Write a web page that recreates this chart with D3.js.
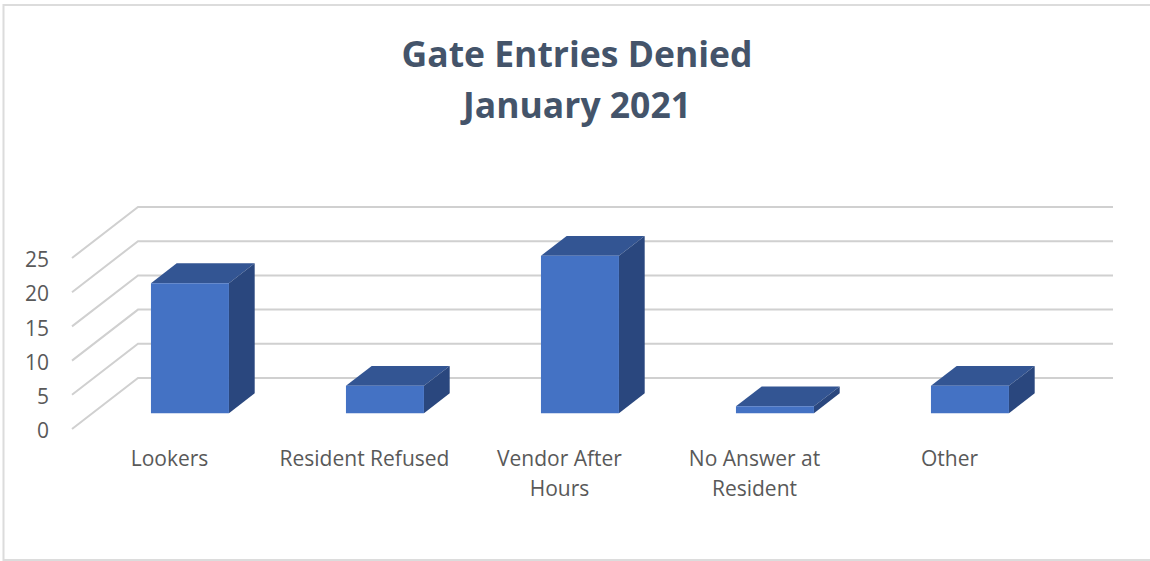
<!DOCTYPE html>
<html>
<head>
<meta charset="utf-8">
<script src="https://cdn.jsdelivr.net/npm/d3@7"></script>
<style>
  html, body { margin: 0; padding: 0; background: #fff; }
  svg { display: block; }
</style>
</head>
<body>
<div id="chart"></div>
<script>
// Values
const titleLines = ["Gate Entries Denied", "January 2021"];
const categories = ["Lookers", "Resident Refused", "Vendor After Hours", "No Answer at Resident", "Other"];
const categoryLines = [["Lookers"], ["Resident Refused"], ["Vendor After", "Hours"], ["No Answer at", "Resident"], ["Other"]];
const values = [19, 4, 23, 1, 4];
const yTicks = [0, 5, 10, 15, 20, 25];

const width = 1150;
const height = 561;

const svg = d3.select("#chart")
    .append("svg")
    .attr("width", width)
    .attr("height", height);

// Chart border
svg.append("path")
    .attr("d", "M3.5,561V5H1150M3,560H1150")
    .attr("fill", "none")
    .attr("stroke", "#dcdcdc")
    .attr("stroke-width", 2);

// Scales, measured on the front plane of the 3D box
const xScale = d3.scaleBand().domain(categories).range([72, 1047]).paddingInner(0.6).paddingOuter(0.3);
const yScale = d3.scaleLinear().domain([0, 25]).range([429, 258]);
// depth 0 = front of floor, 1 = back wall
const depthX = d3.scaleLinear().domain([0, 1]).range([0, 66]);
const depthY = d3.scaleLinear().domain([0, 1]).range([0, -51]);

const project = (x, y, t) => [x + depthX(t), y + depthY(t)];
const line = d3.line();

// Gridlines: slanted part on the side wall, then along the back wall
const grid = svg.append("g");
yTicks.forEach(t => {
    grid.append("path")
        .attr("d", line([
            project(72, yScale(t), 0),
            project(72, yScale(t), 1),
            project(1047, yScale(t), 1)
        ]))
        .attr("fill", "none")
        .attr("stroke", "#d0d0d0")
        .attr("stroke-width", 2);
});

// Bars
const barFront = 0.31;
const barBack = 0.7;

const bars = svg.selectAll(".bar")
    .data(categories.map((c, i) => ({ category: c, value: values[i] })))
    .enter()
    .append("g")
    .attr("class", "bar");

const poly = pts => line(pts) + "Z";

bars.append("path") // top
    .attr("fill", "#335593")
    .attr("d", d => {
        const x0 = xScale(d.category), x1 = x0 + xScale.bandwidth(), y = yScale(d.value);
        return poly([project(x0, y, barFront), project(x1, y, barFront), project(x1, y, barBack), project(x0, y, barBack)]);
    });

bars.append("path") // side
    .attr("fill", "#2a477e")
    .attr("d", d => {
        const x1 = xScale(d.category) + xScale.bandwidth();
        return poly([project(x1, yScale(0), barFront), project(x1, yScale(d.value), barFront), project(x1, yScale(d.value), barBack), project(x1, yScale(0), barBack)]);
    });

bars.append("path") // front
    .attr("fill", "#4472c4")
    .attr("d", d => {
        const x0 = xScale(d.category), x1 = x0 + xScale.bandwidth();
        return poly([project(x0, yScale(0), barFront), project(x1, yScale(0), barFront), project(x1, yScale(d.value), barFront), project(x0, yScale(d.value), barFront)]);
    });

// Y axis
const yAxis = svg.append("g")
    .attr("transform", "translate(49,2)")
    .call(d3.axisLeft(yScale).tickValues(yTicks).tickSize(0).tickPadding(0));
yAxis.select(".domain").remove();
yAxis.selectAll("text")
    .attr("fill", "#595959")
    .style("font-family", "'Open Sans', sans-serif")
    .style("font-size", "21px");

// Category labels, wrapped as in the picture
const labels = svg.append("g")
    .style("font-family", "'Open Sans', sans-serif")
    .style("font-size", "21px")
    .attr("fill", "#595959")
    .attr("text-anchor", "middle");

categories.forEach((c, i) => {
    categoryLines[i].forEach((txt, j) => {
        labels.append("text")
            .attr("x", xScale(c) + xScale.bandwidth() / 2)
            .attr("y", 466 + j * 30)
            .text(txt);
    });
});

// Title
svg.append("g")
    .style("font-family", "'Open Sans', sans-serif")
    .style("font-size", "35.5px")
    .style("font-weight", 700)
    .attr("fill", "#44546a")
    .attr("text-anchor", "middle")
    .selectAll("text")
    .data(titleLines)
    .enter()
    .append("text")
    .attr("x", 577)
    .attr("y", (d, i) => 67 + i * 51)
    .text(d => d);
</script>
</body>
</html>
